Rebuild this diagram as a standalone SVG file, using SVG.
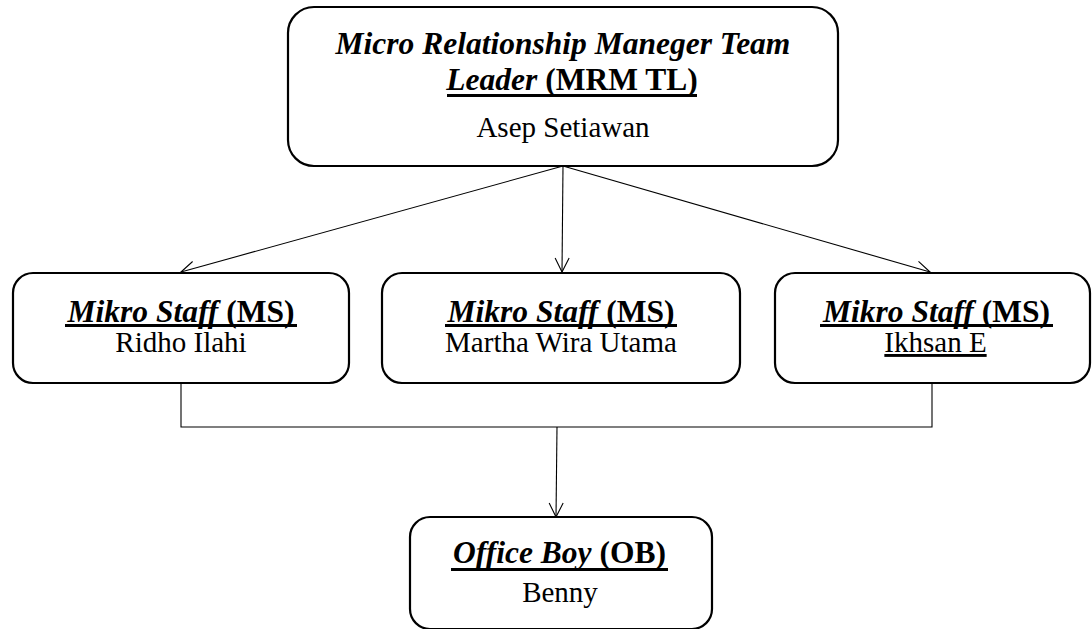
<svg xmlns="http://www.w3.org/2000/svg" width="1092" height="629" viewBox="0 0 1092 629">
  <defs>
    <style>
      .box { fill: #ffffff; stroke: #000000; stroke-width: 2.2; }
      .link { fill: none; stroke: #000000; stroke-width: 1.1; }
      .rule { stroke: #000000; stroke-width: 3; }
      .t { font-family: "Liberation Serif", "Times New Roman", serif; fill: #000000; text-anchor: middle; }
      .head { font-size: 31.5px; font-weight: bold; }
      .name { font-size: 29px; }
      .it { font-style: italic; }
    </style>
    <marker id="arrow" viewBox="0 0 16 16" refX="15" refY="8" markerWidth="16" markerHeight="16" markerUnits="userSpaceOnUse" orient="auto">
      <path d="M1 1 L15 8 L1 15" fill="none" stroke="#000000" stroke-width="1.1"/>
    </marker>
  </defs>

  <rect width="1092" height="629" fill="#ffffff"/>

  <!-- connectors -->
  <g id="connectors">
    <line class="link" x1="563" y1="166" x2="181" y2="272" marker-end="url(#arrow)"/>
    <line class="link" x1="563" y1="166" x2="562" y2="272" marker-end="url(#arrow)"/>
    <line class="link" x1="563" y1="166" x2="930" y2="272" marker-end="url(#arrow)"/>
    <polyline class="link" points="181,383 181,427 932,427 932,383"/>
    <line class="link" x1="557" y1="427" x2="556" y2="517" marker-end="url(#arrow)"/>
  </g>

  <!-- team leader -->
  <g id="node-mrm-tl">
    <rect class="box" x="288" y="7" width="550" height="159" rx="26"/>
    <text class="t head" x="563" y="54"><tspan class="it">Micro Relationship Maneger Team</tspan></text>
    <text class="t head" x="572" y="90"><tspan class="it">Leader</tspan> (MRM TL)</text>
    <line class="rule" x1="447" y1="95.5" x2="697" y2="95.5"/>
    <text class="t name" x="563" y="137">Asep Setiawan</text>
  </g>

  <!-- staff -->
  <g id="node-ms-1">
    <rect class="box" x="13" y="273" width="336" height="110" rx="20"/>
    <text class="t head" x="181" y="322"><tspan class="it">Mikro Staff</tspan> (MS)</text>
    <line class="rule" x1="65" y1="325.5" x2="297" y2="325.5"/>
    <text class="t name" x="181" y="352">Ridho Ilahi</text>
  </g>

  <g id="node-ms-2">
    <rect class="box" x="382" y="273" width="358" height="110" rx="20"/>
    <text class="t head" x="561" y="322"><tspan class="it">Mikro Staff</tspan> (MS)</text>
    <line class="rule" x1="445" y1="325.5" x2="677" y2="325.5"/>
    <text class="t name" x="561" y="352">Martha Wira Utama</text>
  </g>

  <g id="node-ms-3">
    <rect class="box" x="775" y="273" width="315" height="110" rx="20"/>
    <text class="t head" x="936.5" y="322"><tspan class="it">Mikro Staff</tspan> (MS)</text>
    <line class="rule" x1="820" y1="325.5" x2="1053" y2="325.5"/>
    <text class="t name" x="935.5" y="352" text-decoration="underline">Ikhsan E</text>
  </g>

  <!-- office boy -->
  <g id="node-ob">
    <rect class="box" x="410" y="517" width="302" height="112" rx="20"/>
    <text class="t head" x="559.5" y="563"><tspan class="it">Office Boy</tspan> (OB)</text>
    <line class="rule" x1="451" y1="569.5" x2="668" y2="569.5"/>
    <text class="t name" x="560" y="602">Benny</text>
  </g>
</svg>
